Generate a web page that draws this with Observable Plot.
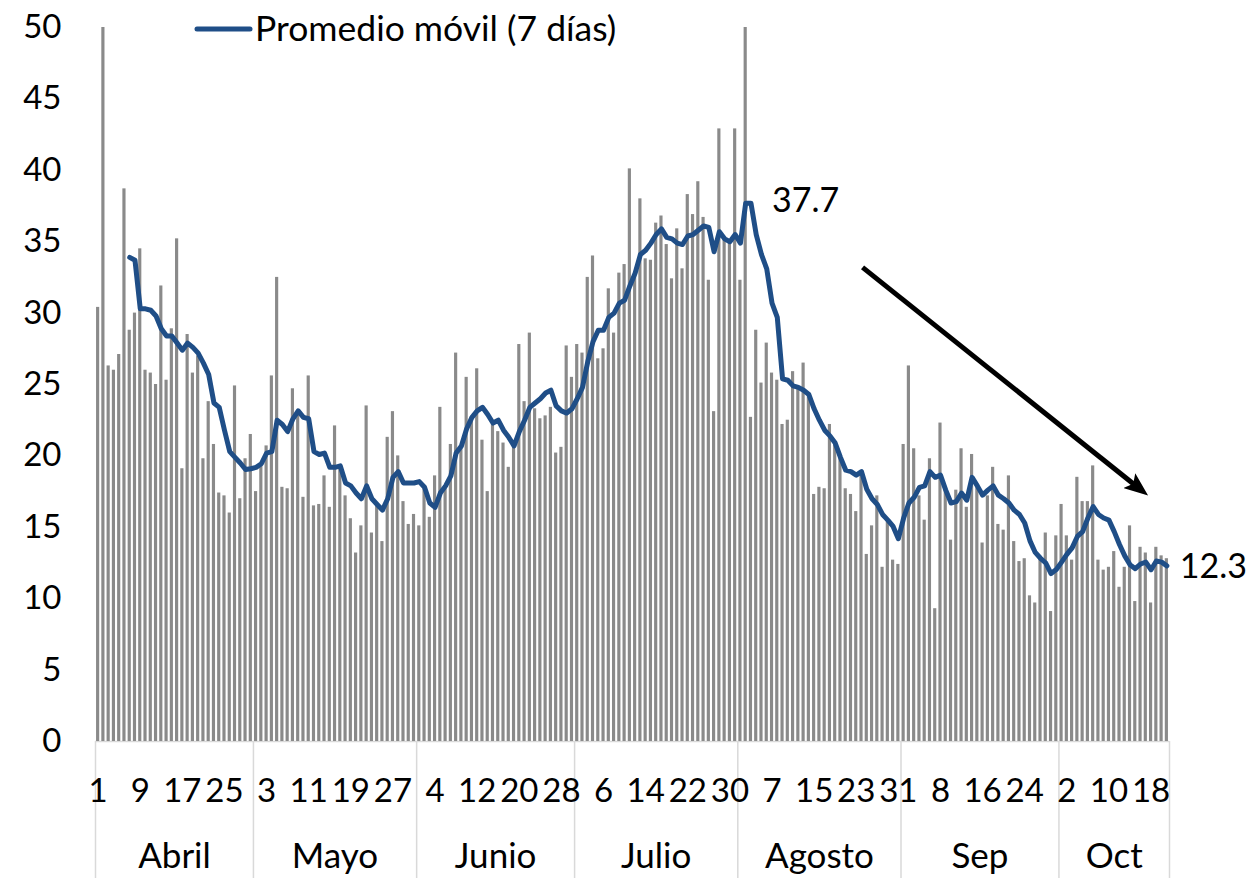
<!DOCTYPE html>
<html>
<head>
<meta charset="utf-8">
<script src="https://cdn.jsdelivr.net/npm/d3@7"></script>
<script src="https://cdn.jsdelivr.net/npm/@observablehq/plot@0.6"></script>
<style>
  body { margin: 0; background: #fff; }
  #wrap { position: relative; width: 1250px; height: 878px; font-family: Lato, "Open Sans", sans-serif; }
  #legend { position: absolute; left: 190px; top: 0; }
</style>
</head>
<body>
<div id="wrap"><div id="legend"></div></div>
<script>
// ---- data ----
const monthNames = ["Abril", "Mayo", "Junio", "Julio", "Agosto", "Sep", "Oct"];
const monthLengths = [30, 31, 30, 31, 31, 30, 21];
const dayTickLabels = ["1","9","17","25","3","11","19","27","4","12","20","28","6","14","22","30","7","15","23","31","8","16","24","2","10","18"];
const seriesName = "Promedio móvil (7 días)";

const dailyValues = [
  // Abril
  30.4, 50.0, 26.3, 26.0, 27.1, 38.7, 28.8, 30.0, 34.5, 26.0,
  25.8, 25.0, 31.9, 25.3, 28.9, 35.2, 19.1, 28.5, 25.8, 27.0,
  19.8, 23.8, 20.8, 17.4, 17.2, 16.0, 24.9, 17.0, 19.8, 21.5,
  // Mayo
  17.5, 19.3, 20.7, 25.6, 32.5, 17.8, 17.7, 24.7, 23.0, 17.1,
  25.6, 16.5, 16.6, 18.6, 16.4, 22.1, 19.2, 17.2, 15.6, 13.2,
  15.1, 23.5, 14.6, 16.6, 14.0, 21.3, 23.1, 20.0, 16.8, 15.2, 15.9,
  // Junio
  15.1, 17.8, 15.7, 18.6, 23.4, 17.9, 20.8, 27.2, 20.7, 25.5,
  22.7, 26.1, 21.1, 17.5, 22.2, 21.7, 20.9, 19.2, 20.7, 27.8,
  23.8, 28.6, 23.3, 22.6, 22.8, 23.4, 20.2, 20.6, 27.7, 25.5,
  // Julio
  27.8, 27.2, 32.5, 34.0, 26.8, 27.5, 31.7, 28.6, 32.8, 33.4,
  40.1, 32.8, 38.0, 33.8, 33.7, 36.3, 36.8, 34.8, 32.4, 35.9,
  33.1, 38.3, 36.9, 39.2, 36.7, 32.3, 23.1, 42.9, 35.2, 35.0, 42.9,
  // Agosto
  32.3, 50.0, 22.7, 28.8, 25.1, 27.9, 25.8, 25.3, 22.2, 22.5,
  25.9, 24.8, 26.5, 24.3, 17.3, 17.8, 17.7, 22.2, 20.9, 19.9,
  17.7, 17.3, 16.1, 18.9, 13.1, 15.1, 17.2, 12.2, 15.5, 12.7, 12.4,
  // Sep
  20.8, 26.3, 20.5, 17.2, 15.5, 19.8, 9.3, 22.3, 17.6, 14.1,
  17.6, 20.5, 16.4, 20.1, 17.9, 13.9, 17.2, 19.2, 15.2, 14.8,
  18.6, 14.0, 12.6, 12.8, 10.2, 9.7, 12.8, 14.6, 9.1, 14.4,
  // Oct
  16.6, 14.4, 12.7, 18.5, 16.8, 16.8, 19.3, 12.7, 12.0, 12.2,
  13.3, 10.8, 12.2, 15.1, 9.8, 13.6, 13.2, 9.7, 13.6, 13.0, 12.8
];

const movingAverage7 = [
  // Abril
  null, null, null, null, null, null, 33.9, 33.7, 30.3, 30.3,
  30.2, 29.8, 28.9, 28.4, 28.4, 27.9, 27.4, 27.9, 27.6, 27.2,
  26.5, 25.7, 23.7, 23.4, 21.8, 20.3, 19.9, 19.5, 19.05, 19.1,
  // Mayo
  19.2, 19.45, 20.2, 20.3, 22.5, 22.2, 21.7, 22.6, 23.15, 22.7,
  22.6, 20.3, 20.1, 20.2, 19.2, 19.2, 19.3, 18.1, 17.9, 17.4,
  17.0, 17.9, 17.0, 16.6, 16.2, 17.0, 18.5, 18.9, 18.1, 18.1, 18.1,
  // Junio
  18.2, 17.8, 16.7, 16.4, 17.4, 17.9, 18.6, 20.2, 20.7, 21.9,
  22.7, 23.15, 23.4, 22.9, 22.3, 22.5, 21.8, 21.3, 20.7, 21.7,
  22.5, 23.4, 23.7, 24.0, 24.4, 24.6, 23.5, 23.15, 23.0, 23.3,
  // Julio
  24.0, 24.8, 26.6, 28.0, 28.8, 28.8, 29.7, 30.0, 30.7, 30.9,
  31.9, 32.8, 34.1, 34.4, 34.9, 35.5, 35.9, 35.3, 35.2, 34.9,
  34.8, 35.4, 35.5, 35.8, 36.1, 36.0, 34.3, 35.7, 35.2, 35.0, 35.5,
  // Agosto
  34.9, 37.7, 37.7, 35.5, 34.1, 33.1, 30.7, 29.7, 25.4, 25.3,
  24.9, 24.8, 24.6, 24.3, 23.3, 22.5, 21.8, 21.4, 20.9, 19.9,
  19.0, 18.9, 18.65, 18.9, 17.66, 17.0, 16.6, 15.9, 15.5, 15.06, 14.2,
  // Sep
  15.65, 16.7, 17.1, 17.8, 17.9, 18.9, 18.5, 18.65, 17.6, 16.7,
  16.8, 17.4, 16.9, 18.5, 17.9, 17.25, 17.6, 17.9, 17.25, 17.0,
  16.7, 16.2, 15.9, 15.3, 14.05, 13.24, 12.83, 12.5, 11.76, 12.05,
  // Oct
  12.56, 13.1, 13.56, 14.36, 14.7, 15.65, 16.45, 15.9, 15.65, 15.5,
  14.7, 13.8, 13.0, 12.38, 12.1, 12.43, 12.56, 12.03, 12.64, 12.56, 12.3
];

// annotations (data coordinates: day index, value)
const peakPoint = [{i: 124, v: 37.7}];
const lastPoint = [{i: 203, v: 12.3}];
const trendArrow = [{x1: 145.2, y1: 33.2, x2: 197.8, y2: 17.7}];

// ---- derived tables ----
const rows = dailyValues.map((v, i) => ({i, v, avg: movingAverage7[i]}));
const monthStarts = d3.cumsum([0, ...monthLengths]);          // 0,30,61,...,204
const boundaries = Array.from(monthStarts, s => s - 0.5);
const monthMids = monthNames.map((m, k) => (monthStarts[k] + monthStarts[k + 1] - 1) / 2);
const monthByMid = new Map(monthMids.map((x, k) => [x, monthNames[k]]));
const tickIdx = d3.range(0, dailyValues.length, 8);
const tickLabelByIdx = new Map(tickIdx.map((x, k) => [x, dayTickLabels[k]]));

const blue = "#1f4e87";
const font = "Lato, 'Open Sans', sans-serif";

const plot = Plot.plot({
  width: 1250,
  height: 878,
  marginLeft: 95,
  marginRight: 81,
  marginTop: 27,
  marginBottom: 137,
  x: {domain: [-0.5, dailyValues.length - 0.5]},
  y: {domain: [0, 50]},
  style: {fontFamily: font, fontSize: "33px", color: "#000", background: "#fff", overflow: "visible"},
  marks: [
    Plot.ruleY([0], {stroke: "#d9d9d9", strokeWidth: 1.5}),
    Plot.rectY(rows, {x1: d => d.i - 0.5, x2: d => d.i + 0.5, y: "v", fill: "#8a8a8a", insetLeft: 1.05, insetRight: 1.05}),
    Plot.axisY({ticks: d3.range(0, 51, 5), tickSize: 0, tickPadding: 34, label: null, fontSize: 33}),
    Plot.axisX({ticks: boundaries, tickSize: 137, stroke: "#d9d9d9", strokeWidth: 1.5, tickFormat: () => "", label: null}),
    Plot.axisX({ticks: tickIdx, tickSize: 0, tickPadding: 37, tickFormat: d => tickLabelByIdx.get(d), label: null, fontSize: 33}),
    Plot.axisX({ticks: monthMids, tickSize: 0, tickPadding: 102, tickFormat: d => monthByMid.get(d), label: null, fontSize: 35}),
    Plot.lineY(rows, {x: "i", y: "avg", stroke: blue, strokeWidth: 5, strokeLinejoin: "round", strokeLinecap: "round"}),
    Plot.link(trendArrow, {x1: "x1", y1: "y1", x2: "x2", y2: "y2", stroke: "#000", strokeWidth: 5}),
    Plot.text(peakPoint, {x: "i", y: "v", text: d => d.v.toFixed(1), textAnchor: "start", dx: 21, dy: -2, fontSize: 34, fill: "#000"}),
    Plot.text(lastPoint, {x: "i", y: "v", text: d => d.v.toFixed(1), textAnchor: "start", dx: 13, dy: 1, fontSize: 34, fill: "#000"})
  ]
});

// filled arrowhead for the trend arrow
const ns = "http://www.w3.org/2000/svg";
const defs = document.createElementNS(ns, "defs");
const marker = document.createElementNS(ns, "marker");
marker.setAttribute("id", "trend-head");
marker.setAttribute("viewBox", "0 0 24 19");
marker.setAttribute("refX", "13");
marker.setAttribute("refY", "9.5");
marker.setAttribute("markerWidth", "24");
marker.setAttribute("markerHeight", "19");
marker.setAttribute("markerUnits", "userSpaceOnUse");
marker.setAttribute("orient", "auto");
const head = document.createElementNS(ns, "path");
head.setAttribute("d", "M0,0L24,9.5L0,19L5,9.5Z");
head.setAttribute("fill", "#000");
marker.appendChild(head);
defs.appendChild(marker);
plot.insertBefore(defs, plot.firstChild);
const linkPath = plot.querySelector('g[aria-label="link"] path');
if (linkPath) linkPath.setAttribute("marker-end", "url(#trend-head)");

document.getElementById("wrap").prepend(plot);

// legend overlay
const legend = document.getElementById("legend");
legend.innerHTML =
  `<svg width="470" height="60" xmlns="${ns}">
     <line x1="7" y1="29" x2="60" y2="29" stroke="${blue}" stroke-width="5" stroke-linecap="round"/>
     <text x="65" y="41" font-family="${font.replace(/'/g, '&quot;')}" font-size="35.5" fill="#000"></text>
   </svg>`;
legend.querySelector("text").textContent = seriesName;
</script>
</body>
</html>
